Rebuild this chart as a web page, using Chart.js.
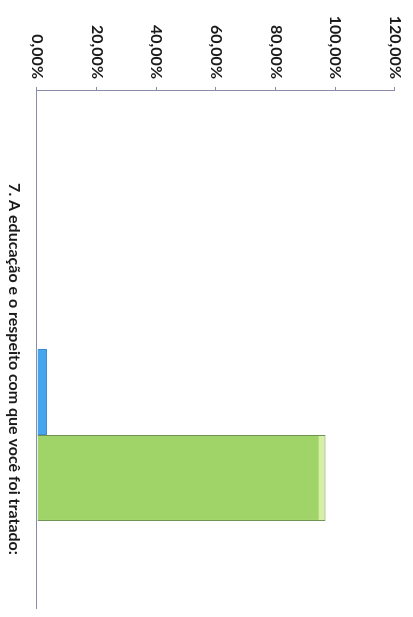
<!DOCTYPE html>
<html>
<head>
<meta charset="utf-8">
<script src="https://cdn.jsdelivr.net/npm/chart.js@4/dist/chart.umd.min.js"></script>
<style>
  html, body { margin: 0; padding: 0; background: #ffffff; overflow: hidden; width: 413px; height: 617px; }
  #wrap { position: absolute; left: 0; top: 0; width: 617px; height: 413px;
          transform-origin: 0 0; transform: translate(413px, 0) rotate(90deg); }
</style>
</head>
<body>
<div id="wrap"><canvas id="c" width="617" height="413"></canvas></div>
<script>
const categories = ['7. A educação e o respeito com que você foi tratado:'];
const seriesNames = ['Série 1', 'Série 2', 'Série 3', 'Série 4'];
const series1 = [0];
const series2 = [0];
const series3 = [3.33];
const series4 = [96.67];
const yTickValues = [0, 20, 40, 60, 80, 100, 120];
const yTickLabels = ['0,00%', '20,00%', '40,00%', '60,00%', '80,00%', '100,00%', '120,00%'];

const axisColor = '#8a8aac';

function bevel(base, light) {
  return (ctx) => {
    const chart = ctx.chart;
    const ys = chart.scales && chart.scales.y;
    if (!chart.chartArea || !ys || ctx.raw === undefined) return base;
    const y0 = ys.getPixelForValue(0);
    const y1 = ys.getPixelForValue(ctx.raw);
    const len = Math.max(1, y0 - y1);
    const g = chart.ctx.createLinearGradient(0, y0, 0, y1);
    const f = Math.max(0, 1 - 7 / len);
    g.addColorStop(0, base);
    g.addColorStop(f, base);
    g.addColorStop(Math.min(1, f + 0.001), light);
    g.addColorStop(1, light);
    return g;
  };
}

new Chart(document.getElementById('c'), {
  type: 'bar',
  data: {
    labels: categories,
    datasets: [
      { label: seriesNames[0], data: series1, backgroundColor: '#4f81bd', borderWidth: 0 },
      { label: seriesNames[1], data: series2, backgroundColor: '#c0504d', borderWidth: 0 },
      { label: seriesNames[2], data: series3, backgroundColor: '#45a6ee', borderColor: '#3b8cd0', borderWidth: 1 },
      { label: seriesNames[3], data: series4, backgroundColor: bevel('#a0d468', '#d6efa6'), borderColor: '#6f8f52', borderWidth: 1 }
    ]
  },
  options: {
    responsive: false,
    animation: false,
    devicePixelRatio: 1,
    layout: { padding: { left: 0, right: 9, top: 18, bottom: 0 } },
    plugins: { legend: { display: false }, tooltip: { enabled: false }, title: { display: false } },
    datasets: { bar: { categoryPercentage: 0.664, barPercentage: 1.0 } },
    scales: {
      x: {
        grid: { display: false, drawTicks: false },
        border: { display: true, color: axisColor, width: 1 },
        ticks: {
          color: '#1a1a1a', padding: 13, labelOffset: 20, maxRotation: 0,
          font: { family: 'Lato', size: 16, weight: 'bold' }
        },
        afterFit: (s) => { s.height = 37; }
      },
      y: {
        min: 0, max: 120,
        afterBuildTicks: (s) => { s.ticks = yTickValues.map(v => ({ value: v })); },
        grid: { display: true, drawOnChartArea: false, drawTicks: true, tickLength: 3, color: axisColor },
        border: { display: true, color: axisColor, width: 1 },
        ticks: {
          color: '#1a1a1a', padding: 8,
          font: { family: 'Lato', size: 16, weight: 'bold' },
          callback: (v) => { const i = yTickValues.indexOf(v); return i >= 0 ? yTickLabels[i] : ''; }
        },
        afterFit: (s) => { s.width = 90; }
      }
    }
  }
});
</script>
</body>
</html>
